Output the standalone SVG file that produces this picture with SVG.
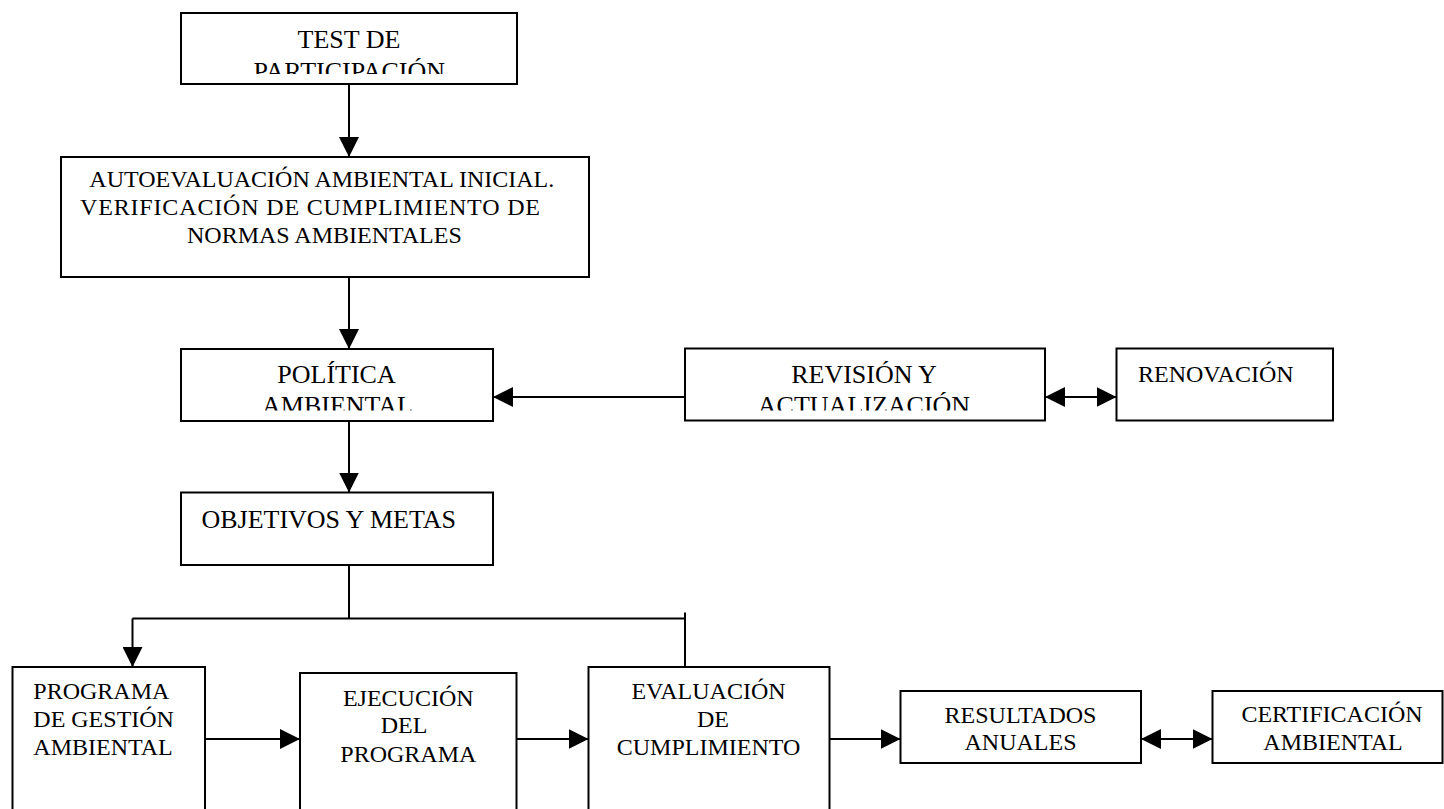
<svg xmlns="http://www.w3.org/2000/svg" width="1444" height="809" viewBox="0 0 1444 809">
  <style>
    .box { fill: #ffffff; stroke: #000000; stroke-width: 2; }
    .t { font-family: "Liberation Serif", "Times New Roman", serif; fill: #000000; }
    .l { font-size: 26px; }
    .s { font-size: 24px; }
    .c { text-anchor: middle; }
    .conn { fill: none; stroke: #000000; stroke-width: 2; }
  </style>
  <defs>
    <marker id="arrow" markerUnits="userSpaceOnUse" markerWidth="20" markerHeight="20" refX="20" refY="10" orient="auto">
      <path d="M0,0 L20,10 L0,20 Z" fill="#000000"/>
    </marker>
    <marker id="arrowStart" markerUnits="userSpaceOnUse" markerWidth="20" markerHeight="20" refX="20" refY="10" orient="auto-start-reverse">
      <path d="M0,0 L20,10 L0,20 Z" fill="#000000"/>
    </marker>
    <clipPath id="clipTest"><rect x="181" y="13" width="336" height="61"/></clipPath>
    <clipPath id="clipPol"><rect x="181" y="349" width="312" height="61.5"/></clipPath>
    <clipPath id="clipRev"><rect x="685" y="348.5" width="360" height="62"/></clipPath>
  </defs>
  <rect x="0" y="0" width="1444" height="809" fill="#ffffff"/>

  <g id="connectors">
    <path class="conn" d="M349,84 V157" marker-end="url(#arrow)"/>
    <path class="conn" d="M349,277 V349" marker-end="url(#arrow)"/>
    <path class="conn" d="M685,397 H493" marker-end="url(#arrow)"/>
    <path class="conn" d="M1045,397 H1116.5" marker-start="url(#arrowStart)" marker-end="url(#arrow)"/>
    <path class="conn" d="M349,421 V492.5" marker-end="url(#arrow)"/>
    <path class="conn" d="M349,565 V618.5"/>
    <path class="conn" d="M132.5,618.5 H685"/>
    <path class="conn" d="M132.5,618.5 V667" marker-end="url(#arrow)"/>
    <path class="conn" d="M685,612.5 V667"/>
    <path class="conn" d="M205,739 H300" marker-end="url(#arrow)"/>
    <path class="conn" d="M516.5,739 H588.5" marker-end="url(#arrow)"/>
    <path class="conn" d="M829.5,739 H900.5" marker-end="url(#arrow)"/>
    <path class="conn" d="M1141,739 H1212.5" marker-start="url(#arrowStart)" marker-end="url(#arrow)"/>
  </g>

  <g id="test">
    <rect class="box" x="181" y="13" width="336" height="71"/>
    <text class="t l c" x="349" y="48.3">TEST DE</text>
    <text class="t l c" x="349.3" y="80" clip-path="url(#clipTest)">PARTICIPACIÓN</text>
  </g>

  <g id="autoevaluacion">
    <rect class="box" x="61" y="157" width="528" height="120"/>
    <text class="t s" x="89.3" y="186.7">AUTOEVALUACIÓN AMBIENTAL INICIAL.</text>
    <text class="t s" x="80" y="215" textLength="460" lengthAdjust="spacing">VERIFICACIÓN DE CUMPLIMIENTO DE</text>
    <text class="t s" x="187" y="243.3">NORMAS AMBIENTALES</text>
  </g>

  <g id="politica">
    <rect class="box" x="181" y="349" width="312" height="72"/>
    <text class="t l c" x="336.5" y="383.3">POLÍTICA</text>
    <text class="t l c" x="337.5" y="414" clip-path="url(#clipPol)">AMBIENTAL</text>
  </g>

  <g id="revision">
    <rect class="box" x="685" y="348.5" width="360" height="72"/>
    <text class="t l c" x="864" y="383.3">REVISIÓN Y</text>
    <text class="t l c" x="864" y="414" clip-path="url(#clipRev)">ACTUALIZACIÓN</text>
  </g>

  <g id="renovacion">
    <rect class="box" x="1116.5" y="348.5" width="216.5" height="72"/>
    <text class="t s" x="1138" y="381.7">RENOVACIÓN</text>
  </g>

  <g id="objetivos">
    <rect class="box" x="181" y="492.5" width="312" height="72.5"/>
    <text class="t l" x="201.4" y="528.3">OBJETIVOS Y METAS</text>
  </g>

  <g id="programa">
    <rect class="box" x="12.5" y="667" width="192.5" height="160"/>
    <text class="t s" x="33.3" y="699">PROGRAMA</text>
    <text class="t s" x="33.3" y="727.3">DE GESTIÓN</text>
    <text class="t s" x="33.3" y="755">AMBIENTAL</text>
  </g>

  <g id="ejecucion">
    <rect class="box" x="300" y="673" width="216.5" height="160"/>
    <text class="t s c" x="408.3" y="705.7">EJECUCIÓN</text>
    <text class="t s c" x="404" y="733.3">DEL</text>
    <text class="t s c" x="408.3" y="761.7">PROGRAMA</text>
  </g>

  <g id="evaluacion">
    <rect class="box" x="588.5" y="667" width="241" height="160"/>
    <text class="t s c" x="708.5" y="699">EVALUACIÓN</text>
    <text class="t s c" x="713" y="727.3">DE</text>
    <text class="t s c" x="708.5" y="755">CUMPLIMIENTO</text>
  </g>

  <g id="resultados">
    <rect class="box" x="900.5" y="691" width="240.5" height="72"/>
    <text class="t s c" x="1020.5" y="722.7">RESULTADOS</text>
    <text class="t s c" x="1020.5" y="750">ANUALES</text>
  </g>

  <g id="certificacion">
    <rect class="box" x="1212.5" y="691" width="230" height="72"/>
    <text class="t s c" x="1332" y="722.3">CERTIFICACIÓN</text>
    <text class="t s c" x="1333" y="749.5">AMBIENTAL</text>
  </g>
</svg>
